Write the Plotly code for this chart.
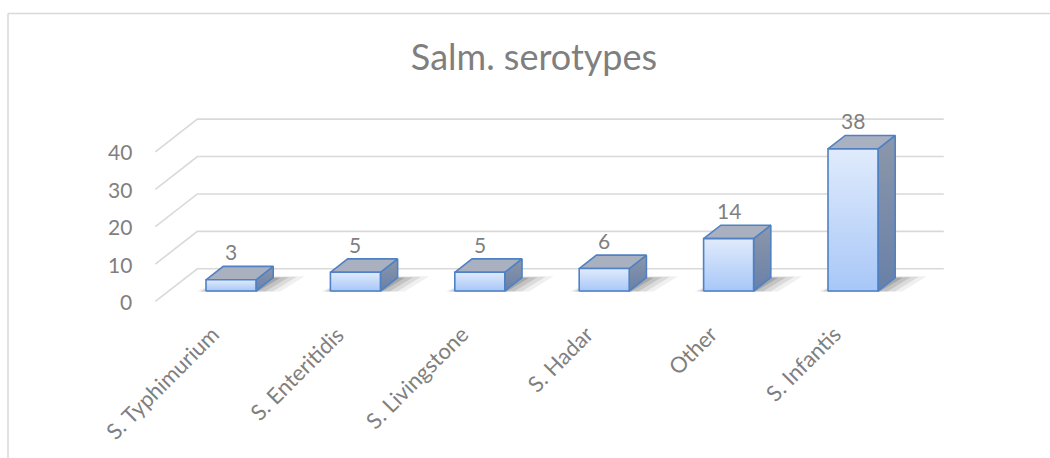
import plotly.graph_objects as go

# ---- data ----
categories = ["S. Typhimurium", "S. Enteritidis", "S. Livingstone", "S. Hadar", "Other", "S. Infantis"]
values = [3, 5, 5, 6, 14, 38]
tick_values = [0, 10, 20, 30, 40]
title_text = "Salm. serotypes"

# ---- style / geometry constants ----
FONT = "Lato, Calibri, 'Open Sans', sans-serif"
GRAY = "#7f7f7f"
GRID = "#d9d9d9"
EDGE = "#4f81c4"
W, H = 1050, 458
PX_X = 124.4          # pixels per category step
PX_Y = 3.74           # pixels per value unit
X0_PX = 231           # pixel of first category (front face center)
BASE_PX = 291         # pixel of value 0 on bar front plane
DEPTH_DX = 42 / PX_X  # full floor depth in x units
DEPTH_DY = 32.7 / PX_Y  # full floor depth in value units
T_FRONT = 0.68        # depth fraction of bar front plane (0 = back wall, 1 = front edge)
BAR_DEPTH = 0.41
HW = 25 / PX_X        # bar half width

xmin = -X0_PX / PX_X
xmax = xmin + W / PX_X
ymin = -(H - BASE_PX) / PX_Y
ymax = ymin + H / PX_Y


def floor_pt(x, t, v=0.0):
    """Point at category position x, depth t, value v -> data coordinates."""
    return x + (T_FRONT - t) * DEPTH_DX, v + (T_FRONT - t) * DEPTH_DY


fig = go.Figure()

n = len(categories)
xl, xr = -0.5, n - 0.5

# back wall gridlines + left wall diagonals
for g in tick_values:
    bx0, by0 = floor_pt(xl, 0, g)
    bx1, by1 = floor_pt(xr, 0, g)
    fx, fy = floor_pt(xl, 1, g)
    fig.add_trace(go.Scatter(x=[fx, bx0, bx1], y=[fy, by0, by1], mode="lines",
                             line=dict(color=GRID, width=1.6), hoverinfo="skip", showlegend=False))
    fig.add_annotation(x=fx - 0.17, y=fy, text=str(g), showarrow=False, xanchor="right", yanchor="middle",
                       font=dict(family=FONT, size=21, color=GRAY))

ddx = BAR_DEPTH * DEPTH_DX
ddy = BAR_DEPTH * DEPTH_DY

# soft floor shadows
for i, v in enumerate(values):
    layers = [(0.07, 0.24, 0.07), (0.05, 0.18, 0.10), (0.03, 0.12, 0.13), (0.01, 0.06, 0.18)]
    for k, (lext, rext, op) in enumerate(layers):
        tf, tb = T_FRONT + 0.015, T_FRONT - BAR_DEPTH - 0.04 + k * 0.015
        p = [floor_pt(i - HW - lext, tf), floor_pt(i + HW + rext - 0.04, tf),
             floor_pt(i + HW + rext, tb), floor_pt(i - HW - lext + 0.12, tb)]
        fig.add_trace(go.Scatter(x=[q[0] for q in p] + [p[0][0]], y=[q[1] for q in p] + [p[0][1]],
                                 mode="lines", fill="toself", fillcolor="rgba(40,40,40,%.2f)" % op,
                                 line=dict(width=0), hoverinfo="skip", showlegend=False))

# bars
for i, v in enumerate(values):
    a, b = i - HW, i + HW
    # side face
    fig.add_trace(go.Scatter(x=[b, b + ddx, b + ddx, b, b], y=[0, ddy, v + ddy, v, 0],
                             mode="lines", fill="toself",
                             fillgradient=dict(type="vertical", colorscale=[[0, "#6880a8"], [1, "#8c97aa"]]),
                             line=dict(color=EDGE, width=1.6), hoverinfo="skip", showlegend=False))
    # top face
    fig.add_trace(go.Scatter(x=[a, b, b + ddx, a + ddx, a], y=[v, v, v + ddy, v + ddy, v],
                             mode="lines", fill="toself", fillcolor="#a9b1c1",
                             line=dict(color=EDGE, width=1.6), hoverinfo="skip", showlegend=False))
    # front face
    fig.add_trace(go.Scatter(x=[a, b, b, a, a], y=[0, 0, v, v, 0],
                             mode="lines", fill="toself",
                             fillgradient=dict(type="vertical", colorscale=[[0, "#a8c7f7"], [1, "#e0ebfc"]]),
                             line=dict(color=EDGE, width=1.6), hoverinfo="skip", showlegend=False))
    # data label
    fig.add_annotation(x=i, y=v + ddy, text=str(v), showarrow=False, xanchor="center", yanchor="bottom",
                       font=dict(family=FONT, size=21, color=GRAY))

# category labels
lab_y = -(318 - BASE_PX) / PX_Y
for i, c in enumerate(categories):
    fig.add_annotation(x=i - 4 / PX_X, y=lab_y, text=c, showarrow=False, textangle=-45,
                       xanchor="right", yanchor="top", font=dict(family=FONT, size=22, color=GRAY))

# chart border (partially visible)
fig.add_shape(type="line", xref="paper", yref="paper", x0=8 / W, x1=1.0, y0=1 - 13.5 / H, y1=1 - 13.5 / H,
              line=dict(color=GRID, width=1.5))
fig.add_shape(type="line", xref="paper", yref="paper", x0=8 / W, x1=8 / W, y0=0, y1=1 - 13.5 / H,
              line=dict(color=GRID, width=1.5))

fig.update_layout(
    width=W, height=H,
    margin=dict(l=0, r=0, t=0, b=0),
    paper_bgcolor="white", plot_bgcolor="white",
    title=dict(text=title_text, x=534 / W, xanchor="center", y=1 - 57 / H, yanchor="middle",
               font=dict(family=FONT, size=36, color=GRAY)),
    xaxis=dict(range=[xmin, xmax], visible=False, fixedrange=True),
    yaxis=dict(range=[ymin, ymax], visible=False, fixedrange=True),
    hovermode=False,
    showlegend=False,
)

fig.write_html("out.html", config={"displayModeBar": False},
               post_script="document.body.style.margin='0';")
